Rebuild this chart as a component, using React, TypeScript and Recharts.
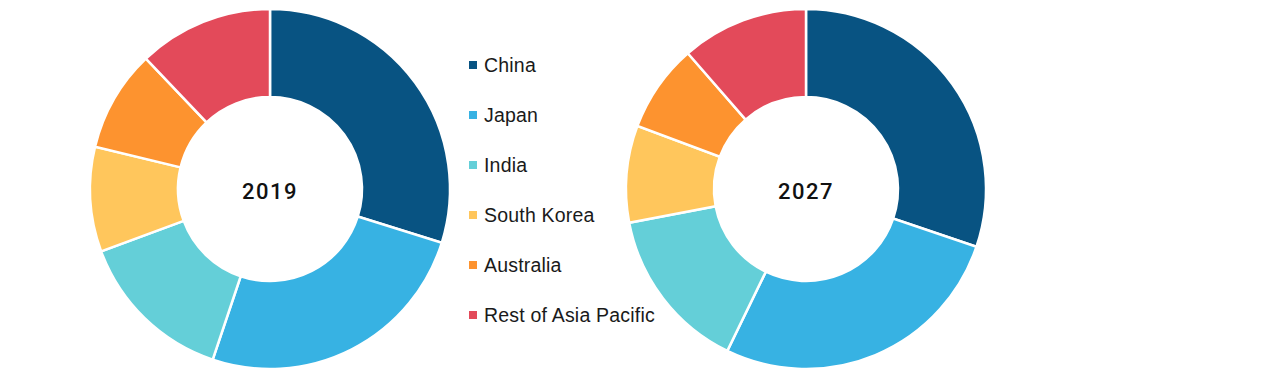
import { PieChart, Pie, Cell, Legend } from "recharts";

const regions = ["China", "Japan", "India", "South Korea", "Australia", "Rest of Asia Pacific"];
const share2019 = [29.8, 25.3, 14.2, 9.4, 9.1, 12.1];
const share2027 = [30.2, 27.0, 14.8, 8.7, 7.9, 11.4];
const colors = ["#085382", "#37B2E3", "#64CFD8", "#FFC65C", "#FD932F", "#E34A5A"];
const years = ["2019", "2027"];

const data2019 = regions.map((name, i) => ({ name, value: share2019[i] }));
const data2027 = regions.map((name, i) => ({ name, value: share2027[i] }));

// donut centres, shared by the pies and the year captions
const CX = [270, 806];
const CY = 189;

const LegendBox = () => (
    <div style={{ fontFamily: "'Liberation Sans', Arial, sans-serif", fontSize: 19.5, letterSpacing: 0.2, color: "#1a1a1a" }}>
        {regions.map((r, i) => (
            <div key={r} style={{ display: "flex", alignItems: "center", height: 50 }}>
                <span style={{ width: 8, height: 8, background: colors[i], marginRight: 7, flexShrink: 0 }} />
                <span style={{ whiteSpace: "nowrap" }}>{r}</span>
            </div>
        ))}
    </div>
);

export default function App() {
    const pies = [data2019, data2027];
    return (
        <div style={{ position: "absolute", left: 0, top: 0, width: 1285, height: 375, background: "#fff" }}>
            <PieChart width={1285} height={375} margin={{ top: 0, right: 0, bottom: 0, left: 0 }}>
                {pies.map((data, p) => (
                    <Pie
                        key={years[p]}
                        data={data}
                        dataKey="value"
                        nameKey="name"
                        cx={CX[p]}
                        cy={CY}
                        innerRadius={92}
                        outerRadius={180}
                        startAngle={90}
                        endAngle={-270}
                        stroke="#fff"
                        strokeWidth={2.5}
                        isAnimationActive={false}
                    >
                        {data.map((d, i) => (
                            <Cell key={d.name} fill={colors[i]} />
                        ))}
                    </Pie>
                ))}
                <Legend
                    content={<LegendBox />}
                    wrapperStyle={{ position: "absolute", left: 469, top: 40, width: 220 }}
                />
            </PieChart>
            {years.map((y, p) => (
                <div
                    key={y}
                    style={{
                        position: "absolute",
                        left: CX[p] - 50,
                        top: CY - 12,
                        width: 100,
                        textAlign: "center",
                        fontFamily: "Roboto, sans-serif",
                        fontWeight: 500,
                        fontSize: 22,
                        letterSpacing: 1.5,
                        lineHeight: "30px",
                        color: "#111",
                    }}
                >
                    {y}
                </div>
            ))}
        </div>
    );
}
